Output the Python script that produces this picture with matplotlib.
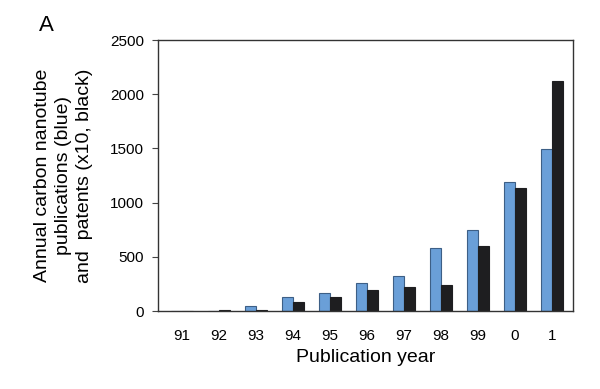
import matplotlib.pyplot as plt
import numpy as np

plt.rcParams['font.family'] = ['Liberation Sans', 'DejaVu Sans']

years = ['91', '92', '93', '94', '95', '96', '97', '98', '99', '0', '1']
publications = [0, 2, 50, 133, 166, 256, 320, 582, 747, 1187, 1494]
patents_x10 = [0, 5, 13, 80, 129, 191, 225, 243, 600, 1138, 2125]

bar_width = 0.3
index = np.arange(len(years))

fig = plt.figure(figsize=(6, 3.89), dpi=100)
ax = fig.add_axes([0.263, 0.2005, 0.692, 0.6965])

ax.bar(index - bar_width / 2, publications, bar_width, color='#6a9fd8',
       edgecolor='#3d5f86', linewidth=0.8)
ax.bar(index + bar_width / 2, patents_x10, bar_width, color='#1e1e20',
       edgecolor='#1e1e20', linewidth=0.8)

ax.set_xlim(-0.65, 10.57)
ax.set_ylim(0, 2500)
ax.set_yticks([0, 500, 1000, 1500, 2000, 2500])
ax.set_xticks(index)
ax.set_xticklabels(years)
ax.tick_params(axis='x', length=0, pad=13, labelsize=11)
ax.tick_params(axis='y', length=4, width=0.8, pad=6, labelsize=11, color='#444444')
for s in ax.spines.values():
    s.set_color('#333333')
    s.set_linewidth(1.0)

ax.set_xlabel('Publication year', fontsize=14, labelpad=4)
ax.set_ylabel('Annual carbon nanotube\npublications (blue)\nand  patents (x10, black)',
              fontsize=14, labelpad=12, linespacing=1.3)
fig.text(0.078, 0.935, 'A', fontsize=16, ha='center', va='center')

fig.savefig('out.png', dpi=100)
